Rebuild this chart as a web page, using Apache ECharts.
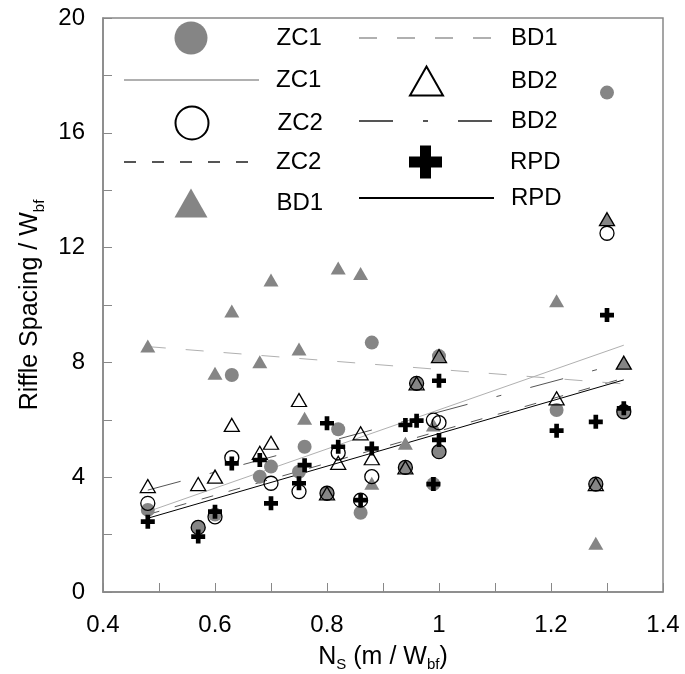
<!DOCTYPE html>
<html>
<head>
<meta charset="utf-8">
<script src="https://cdn.jsdelivr.net/npm/echarts@6/dist/echarts.min.js"></script>
<style>html,body{margin:0;padding:0;background:#fff}#c{width:685px;height:674px}</style>
</head>
<body>
<div id="c"></div>
<script>
// ---- data ----
const xTickLabels = ['0.4', '0.6', '0.8', '1', '1.2', '1.4'];
const yTickLabels = ['0', '4', '8', '12', '16', '20'];

const zc1 = [[0.48,2.86],[0.57,2.25],[0.60,2.70],[0.63,7.56],[0.68,4.02],[0.70,4.37],[0.75,4.19],[0.76,5.06],[0.80,3.44],[0.82,5.67],[0.86,2.76],[0.88,8.69],[0.94,4.34],[0.96,7.27],[0.99,3.76],[1.00,8.22],[1.00,4.89],[1.21,6.34],[1.28,3.76],[1.30,17.4],[1.33,6.28]];
const zc2 = [[0.48,3.09],[0.57,2.25],[0.60,2.62],[0.63,4.68],[0.70,3.79],[0.75,3.50],[0.80,3.44],[0.82,4.85],[0.86,3.20],[0.88,4.02],[0.94,4.34],[0.96,7.27],[0.99,5.99],[1.00,5.90],[1.00,4.89],[1.28,3.76],[1.30,12.5],[1.33,6.28]];
const bd1 = [[0.48,8.57],[0.60,7.62],[0.63,9.79],[0.68,8.02],[0.70,10.87],[0.75,8.47],[0.76,6.05],[0.82,11.29],[0.86,11.10],[0.88,3.79],[0.94,5.18],[0.99,5.82],[1.00,8.22],[1.21,10.15],[1.28,1.70],[1.30,12.99],[1.33,7.99]];
const bd2 = [[0.48,3.69],[0.57,3.76],[0.60,4.02],[0.63,5.82],[0.68,4.85],[0.70,5.20],[0.75,6.69],[0.80,3.44],[0.82,4.50],[0.86,5.53],[0.88,4.66],[0.94,4.34],[0.96,7.27],[1.00,8.22],[1.21,6.75],[1.28,3.76],[1.30,12.99],[1.33,7.99]];
const rpd = [[0.48,2.45],[0.57,1.93],[0.60,2.80],[0.63,4.48],[0.68,4.60],[0.70,3.09],[0.75,3.79],[0.76,4.42],[0.80,5.88],[0.82,5.06],[0.86,3.20],[0.88,5.00],[0.94,5.82],[0.96,5.97],[0.99,3.76],[1.00,7.36],[1.00,5.30],[1.21,5.62],[1.28,5.93],[1.30,9.65],[1.33,6.40]];

// fitted trend lines (end points)
const zc1Fit = [[0.48,2.80],[1.33,8.60]];
const zc2Fit = [[0.48,2.70],[1.33,7.45]];
const bd1Fit = [[0.48,8.55],[1.33,7.25]];
const bd2Fit = [[0.48,3.55],[1.33,8.00]];
const rpdFit = [[0.48,2.57],[1.33,7.39]];

// ---- chart ----
const FONT = '"Liberation Sans", Arial, sans-serif';
const GRAY = '#858585';
const PLUS = 'path://M-1,-3L1,-3L1,-1L3,-1L3,1L1,1L1,3L-1,3L-1,1L-3,1L-3,-1L-1,-1Z';

function lineSeries(name, data, color, type) {
  return {
    name: name, type: 'line', data: data, symbol: 'circle', showSymbol: false,
    itemStyle: {opacity: 0}, silent: true, z: 1,
    lineStyle: {color: color, width: 1, type: type}
  };
}

// one legend per row
function legendRow(name, left, cy, pad, w, h, hideSymbol) {
  const item = {name: name};
  if (hideSymbol) item.itemStyle = {opacity: 0};
  return {
    data: [item], orient: 'vertical', left: left, top: cy - h / 2, padding: 0,
    itemWidth: w, itemHeight: h, itemGap: 0, selectedMode: false,
    formatter: n => n.trim(),
    textStyle: {fontFamily: FONT, fontSize: 24, lineHeight: h, color: '#000', padding: [0, 0, 0, pad]}
  };
}

const legends = [
  legendRow('ZC1', 174.5, 38, 64, 33, 33),
  legendRow('ZC1 ', 123, 80, 12, 135, 33, true),
  legendRow('ZC2', 174.5, 122, 64, 33, 33),
  legendRow('ZC2 ', 123, 162, 12, 135, 33, true),
  legendRow('BD1', 174.5, 203, 64, 33, 29),
  legendRow('BD1 ', 358, 38, 12, 135, 33, true),
  legendRow('BD2', 409, 80, 63, 33, 29),
  legendRow('BD2 ', 358, 121, 12, 135, 33, true),
  legendRow('RPD', 409, 162, 63, 33, 33),
  legendRow('RPD ', 358, 198, 12, 135, 33, true)
];

const chart = echarts.init(document.getElementById('c'), null, {renderer: 'canvas'});
chart.setOption({
  animation: false,
  backgroundColor: '#fff',
  textStyle: {fontFamily: FONT},
  grid: {left: 103, right: 22, top: 18, bottom: 82, show: true, borderColor: '#888', borderWidth: 1.5,
    containLabel: false, outerBoundsMode: 'none'},
  legend: legends,
  xAxis: {
    type: 'value', min: 0.4, max: 1.4, interval: 0.1,
    splitLine: {show: false},
    axisLine: {show: true, lineStyle: {color: '#888', width: 1.5}},
    axisTick: {show: true, inside: true, length: 9, lineStyle: {color: '#888'}},
    axisLabel: {
      margin: 21, fontSize: 24, color: '#000', fontFamily: FONT,
      formatter: v => { const s = String(Math.round(v * 10) / 10); return xTickLabels.indexOf(s) >= 0 ? s : ''; }
    },
    name: 'N{sub|S} (m / W{sub|bf})', nameLocation: 'middle', nameGap: 48,
    nameTextStyle: {fontSize: 25, color: '#000', fontFamily: FONT, lineHeight: 30,
      rich: {sub: {fontSize: 15, verticalAlign: 'bottom', fontFamily: FONT, color: '#000'}}}
  },
  yAxis: {
    type: 'value', min: 0, max: 20, interval: 2,
    splitLine: {show: false},
    axisLine: {show: true, lineStyle: {color: '#888', width: 1.5}},
    axisTick: {show: true, inside: true, length: 9, lineStyle: {color: '#888'}},
    axisLabel: {
      margin: 18, fontSize: 24, color: '#000', fontFamily: FONT,
      formatter: v => { const s = String(Math.round(v)); return yTickLabels.indexOf(s) >= 0 ? s : ''; }
    },
    name: 'Riffle Spacing / W{sub|bf}', nameLocation: 'middle', nameGap: 56,
    nameTextStyle: {fontSize: 25, color: '#000', fontFamily: FONT, lineHeight: 34,
      rich: {sub: {fontSize: 15, verticalAlign: 'bottom', fontFamily: FONT, color: '#000'}}}
  },
  series: [
    lineSeries('ZC1 ', zc1Fit, '#b0b0b0', 'solid'),
    lineSeries('ZC2 ', zc2Fit, '#555', [12, 16]),
    lineSeries('BD1 ', bd1Fit, '#b0b0b0', [18, 20]),
    lineSeries('BD2 ', bd2Fit, '#555', [34, 30, 5, 30]),
    lineSeries('RPD ', rpdFit, '#000', 'solid'),
    {name: 'ZC1', type: 'scatter', data: zc1, symbol: 'circle', symbolSize: 14, z: 2,
      itemStyle: {color: GRAY, opacity: 1}},
    {name: 'BD1', type: 'scatter', data: bd1, symbol: 'triangle', symbolSize: [15, 13], z: 3,
      itemStyle: {color: GRAY, opacity: 1}},
    {name: 'ZC2', type: 'scatter', data: zc2, symbol: 'circle', symbolSize: 14, z: 4,
      itemStyle: {color: 'rgba(0,0,0,0)', borderColor: '#000', borderWidth: 1.3, opacity: 1}},
    {name: 'BD2', type: 'scatter', data: bd2, symbol: 'triangle', symbolSize: [15, 13], z: 5,
      itemStyle: {color: 'rgba(0,0,0,0)', borderColor: '#000', borderWidth: 1.3, opacity: 1}},
    {name: 'RPD', type: 'scatter', data: rpd, symbol: PLUS, symbolSize: 14, z: 6,
      itemStyle: {color: '#000', opacity: 1}}
  ]
});
</script>
</body>
</html>
